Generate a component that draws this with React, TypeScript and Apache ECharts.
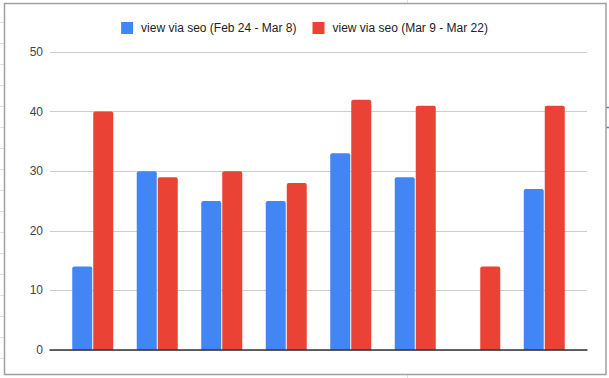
import React, { useEffect, useRef } from "react";
import * as echarts from "echarts";

const categories = ["1", "2", "3", "4", "5", "6", "7", "8"];
const seriesNames = ["view via seo (Feb 24 - Mar 8)", "view via seo (Mar 9 - Mar 22)"];
const period1 = [14, 30, 25, 25, 33, 29, null, 27];
const period2 = [40, 29, 30, 28, 42, 41, 14, 41];
const yTicks = { min: 0, max: 50, interval: 10 };

const FONT = "'Liberation Sans', Arial, sans-serif";

export default function App() {
  const ref = useRef<HTMLDivElement>(null);
  useEffect(() => {
    document.body.style.margin = "0";
    const chart = echarts.init(ref.current!, null, { renderer: "svg" });
    const rowLines: any[] = [];
    for (let y = 22; y < 378; y += 21) {
      rowLines.push({
        type: "line",
        shape: { x1: 0, y1: y + 0.5, x2: 4, y2: y + 0.5 },
        style: { stroke: "#e0e0e0", lineWidth: 1 },
        silent: true,
      });
    }
    chart.setOption({
      animation: false,
      backgroundColor: "#ffffff",
      textStyle: { fontFamily: FONT },
      color: ["#4285F4", "#EA4335"],
      legend: {
        data: seriesNames,
        left: "center",
        top: 22,
        padding: 0,
        itemWidth: 12,
        itemHeight: 12,
        itemGap: 16,
        icon: "rect",
        textStyle: { color: "#222222", fontSize: 12, fontFamily: FONT, padding: [0, 0, 0, 3] },
      },
      grid: [
        { left: 50, right: 22, top: 52, bottom: 28, containLabel: false },
        { left: 60.5, right: 32.5, top: 52, bottom: 28, containLabel: false },
      ],
      xAxis: [
        {
          gridIndex: 0,
          type: "category",
          data: [""],
          axisLine: { show: true, lineStyle: { color: "#333333", width: 1.5 } },
          axisTick: { show: false },
          axisLabel: { show: false },
          z: 5,
        },
        {
          gridIndex: 1,
          type: "category",
          data: categories,
          show: false,
        },
      ],
      yAxis: [
        {
          gridIndex: 0,
          type: "value",
          min: yTicks.min,
          max: yTicks.max,
          interval: yTicks.interval,
          axisLine: { show: false },
          axisTick: { show: false },
          axisLabel: { color: "#444444", fontSize: 12, margin: 7, fontFamily: FONT },
          splitLine: { lineStyle: { color: "#cccccc", width: 1 } },
        },
        {
          gridIndex: 1,
          type: "value",
          min: yTicks.min,
          max: yTicks.max,
          interval: yTicks.interval,
          show: false,
          splitLine: { show: false },
        },
      ],
      series: [
        {
          name: seriesNames[0],
          type: "bar",
          xAxisIndex: 1,
          yAxisIndex: 1,
          data: period1,
          barWidth: 20,
          barGap: "5%",
          itemStyle: { color: "#4285F4", borderRadius: [2, 2, 0, 0] },
          z: 3,
        },
        {
          name: seriesNames[1],
          type: "bar",
          xAxisIndex: 1,
          yAxisIndex: 1,
          data: period2,
          barWidth: 20,
          barGap: "5%",
          itemStyle: { color: "#EA4335", borderRadius: [2, 2, 0, 0] },
          z: 3,
        },
      ],
      graphic: [
        ...rowLines,
        {
          type: "line",
          shape: { x1: 407.5, y1: 0, x2: 407.5, y2: 4 },
          style: { stroke: "#e0e0e0", lineWidth: 1 },
          silent: true,
        },
        {
          type: "line",
          shape: { x1: 407.5, y1: 375, x2: 407.5, y2: 378 },
          style: { stroke: "#e0e0e0", lineWidth: 1 },
          silent: true,
        },
        {
          type: "line",
          shape: { x1: 606, y1: 107.5, x2: 609, y2: 107.5 },
          style: { stroke: "#4285F4", lineWidth: 1.5 },
          silent: true,
        },
        {
          type: "line",
          shape: { x1: 606, y1: 127.5, x2: 609, y2: 127.5 },
          style: { stroke: "#4285F4", lineWidth: 1.5 },
          silent: true,
        },
        {
          type: "rect",
          shape: { x: 4.5, y: 3.5, width: 601.5, height: 371 },
          style: { fill: "none", stroke: "#a0a0a0", lineWidth: 1.5 },
          silent: true,
          z: 10,
        },
      ],
    });
    return () => chart.dispose();
  }, []);
  return <div ref={ref} style={{ width: 609, height: 378 }} />;
}
